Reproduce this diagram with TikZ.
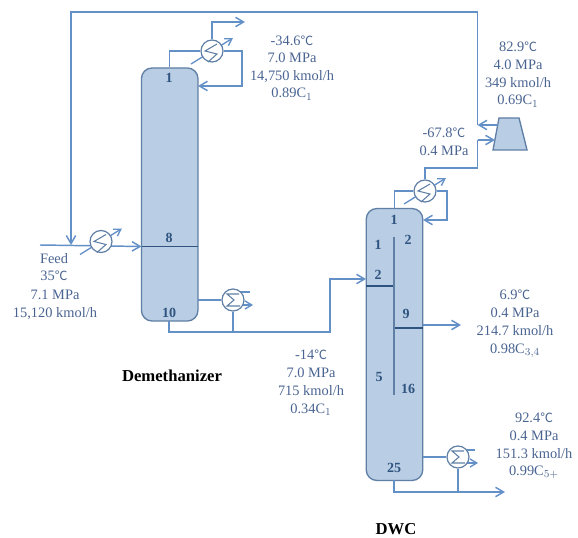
\documentclass[tikz,border=0pt]{standalone}
\usepackage{fontspec}
\setmainfont{Liberation Serif}
\newfontfamily\cjkdeg{Noto Sans CJK SC}
\usetikzlibrary{arrows.meta,calc}
\newcommand{\degC}{{\cjkdeg\fontsize{9.5pt}{10pt}\selectfont ℃}}
\definecolor{pipe}{HTML}{6490C8}
\definecolor{colfill}{HTML}{B9CDE5}
\definecolor{coledge}{HTML}{5F7FA5}
\definecolor{txt}{HTML}{4A6491}
\definecolor{tray}{HTML}{2F5480}
\definecolor{hxc}{HTML}{5F7FA5}
\newcommand{\hxarrow}[1]{%
  \draw[zigarrow] ([shift={(-21,-13)}]#1.center) -- ([shift={(21,13)}]#1.center);}
\newcommand{\hxzig}[1]{%
  \draw[zig] ([shift={(5,7)}]#1.center) -- ([shift={(-7,0)}]#1.center) -- ([shift={(5,-3)}]#1.center) -- ([shift={(-4,-11)}]#1.center);}
\newcommand{\rbsigma}[1]{%
  \draw[zig] ([shift={(6,6)}]#1.center) -- ([shift={(-6,6)}]#1.center) -- ([shift={(1,0)}]#1.center) -- ([shift={(-6,-6)}]#1.center) -- ([shift={(7,-6)}]#1.center);}
\tikzset{
  x=0.75pt,y=0.75pt,
  pipeline/.style={draw=pipe,line width=1.1pt,line join=miter},
  flow/.style={pipeline,-{Straight Barb[length=6pt,width=7pt]}},
  zig/.style={draw=hxc,line width=0.8pt},
  zigarrow/.style={draw=pipe,line width=1pt,-{Straight Barb[length=5pt,width=6pt]}},
  hxnode/.style={circle,draw=hxc,fill=white,line width=0.9pt,inner sep=0pt,minimum size=16.5pt},
  column/.style={draw=coledge,fill=colfill,line width=1pt,rounded corners=8pt,inner sep=0pt},
  trayline/.style={draw=tray,line width=1.1pt},
  stage/.style={font=\fontsize{10.5pt}{12pt}\selectfont\bfseries,text=tray,inner sep=0pt},
  info/.style={font=\fontsize{10.8pt}{13pt}\selectfont,text=txt,align=center,inner sep=0pt,anchor=base,yshift=-0.75pt},
  title/.style={font=\fontsize{12.5pt}{14pt}\selectfont\bfseries,text=black,inner sep=0pt},
}
\begin{document}
\begin{tikzpicture}
\useasboundingbox (0,0) rectangle (578,-538);
% columns
\node[column,minimum width=42.4pt,minimum height=189.8pt] (dem) at (169.7,-194.5) {};
\node[column,minimum width=42.4pt,minimum height=204pt] (dwc) at (394.5,-344.5) {};
% internals
\coordinate (t8L) at (141.5,-246.5);
\coordinate (t8R) at (198,-246.5);
\coordinate (wallT) at (394,-237);
\coordinate (wallB) at (394,-395);
\coordinate (t2L) at (366,-286);
\coordinate (t2R) at (394,-286);
\coordinate (t9L) at (394,-328);
\coordinate (t9R) at (423,-328);
\draw[trayline] (t8L) -- (t8R);
\draw[trayline] (t2L) -- (t2R);
\draw[trayline] (t9L) -- (t9R);
\draw[draw=coledge,line width=0.9pt] (wallT) -- (wallB);
% exchanger positions
\coordinate (c1p) at (212,-51);
\coordinate (feedp) at (101,-241.5);
\coordinate (r1p) at (233,-300);
\coordinate (c2p) at (425,-191);
\coordinate (r2p) at (458,-457);
\node[hxnode,draw=none,fill=none] (c1) at (c1p) {};
\node[hxnode,draw=none,fill=none] (feedhx) at (feedp) {};
\node[hxnode,draw=none,fill=none] (r1) at (r1p) {};
\node[hxnode,draw=none,fill=none] (c2) at (c2p) {};
\node[hxnode,draw=none,fill=none] (r2) at (r2p) {};
% compressor
\path[draw=coledge,fill=colfill,line width=1pt] (499,-118) -- (519,-118) -- (527,-150) -- (493,-150) -- cycle;
\coordinate (compOut) at (497.5,-125);
\coordinate (compIn) at (495,-140);
% demethanizer top
\coordinate (c1a) at (242,-51);
\coordinate (c1b) at (242,-86);
\coordinate (c1ret) at (198,-86);
\coordinate (c1up) at (212,-22);
\coordinate (c1out) at (245,-22);
\draw[pipeline] (dem.north) |- (c1.west);
\draw[flow] (c1.east) -- (c1a) -- (c1b) -- (c1ret);
\draw[flow] (c1.north) -- (c1up) -- (c1out);
% recycle
\coordinate (rTee) at (477.5,-125);
\coordinate (rTopR) at (477.5,-12);
\coordinate (rTopL) at (71,-12);
\coordinate (rMix) at (71,-245);
\draw[flow] (compOut) -- (rTee);
\draw[flow] (rTee) -- (rTopR) -- (rTopL) -- (rMix);
% feed
\coordinate (feedIn) at (40,-245);
\draw[flow] (feedIn) -- (t8L);
% demethanizer bottom
\coordinate (demB) at (169,-321);
\coordinate (botDem) at (169,-332);
\coordinate (botMerge) at (234,-332);
\coordinate (toDwc1) at (330,-332);
\coordinate (toDwc2) at (330,-279);
\coordinate (dwcFeed) at (366,-279);
\draw[flow] (demB) -- (botDem) -- (toDwc1) -- (toDwc2) -- (dwcFeed);
\draw[pipeline] (r1.south) -- (r1.south |- botMerge);
\coordinate (demS) at (198,-300);
\draw[pipeline] (demS) -- (r1.west);
\coordinate (r1s) at (250,-292);
\coordinate (r1o) at (253,-305);
\draw[pipeline] ([shift={(7,8)}]r1.center) -- (r1s);
\draw[zigarrow] ([shift={(9,-5)}]r1.center) -- (r1o);
% DWC top
\coordinate (dwcT) at (394.5,-208);
\coordinate (c2l) at (394.5,-191);
\coordinate (c2a) at (447,-191);
\coordinate (c2b) at (447,-220);
\coordinate (c2ret) at (423,-220);
\coordinate (c2up) at (425,-168);
\coordinate (c2m) at (477.5,-168);
\coordinate (c2n) at (477.5,-140);
\draw[pipeline] (dwcT) -- (c2l) -- (c2.west);
\draw[flow] (c2.east) -- (c2a) -- (c2b) -- (c2ret);
\draw[pipeline] (c2.north) -- (c2up) -- (c2m) -- (c2n);
\draw[flow] (c2n) -- (compIn);
% DWC side and bottom
\coordinate (sideS) at (423,-325);
\coordinate (sideOut) at (461,-325);
\draw[flow] (sideS) -- (sideOut);
\coordinate (r2in) at (423,-457);
\draw[pipeline] (r2in) -- (r2.west);
\coordinate (dwcB) at (394,-480);
\coordinate (botDwc) at (394,-492);
\coordinate (botOut) at (505,-492);
\draw[flow] (dwcB) -- (botDwc) -- (botOut);
\draw[pipeline] (r2.south) -- (r2.south |- botOut);
\coordinate (r2s) at (475,-450);
\coordinate (r2o) at (478,-463);
\draw[pipeline] ([shift={(7,7)}]r2.center) -- (r2s);
\draw[zigarrow] ([shift={(9,-6)}]r2.center) -- (r2o);
% exchanger arrows, then faces over them
\hxarrow{c1}\hxarrow{c2}\hxarrow{feedhx}
\foreach \n in {c1p,c2p,feedp,r1p,r2p}{\node[hxnode] at (\n) {};}
\hxzig{c1}\hxzig{c2}\hxzig{feedhx}
\rbsigma{r1}\rbsigma{r2}
% stage numbers
\node[stage] (s1) at (169,-78) {1};
\node[stage] (s8) at (169,-238) {8};
\node[stage] (s10) at (169,-313) {10};
\node[stage] (d1) at (394,-220) {1};
\node[stage] (d1b) at (378,-245) {1};
\node[stage] (d2b) at (408,-240) {2};
\node[stage] (d2) at (378,-275) {2};
\node[stage] (d9) at (406,-314) {9};
\node[stage] (d5) at (379,-377) {5};
\node[stage] (d16) at (408,-389) {16};
\node[stage] (d25) at (394,-468) {25};
% info
\node[info] (i1a) at (292,-45) {-34.6\degC};
\node[info] (i1b) at (292,-62) {7.0 MPa};
\node[info] (i1c) at (292,-80) {14,750 kmol/h};
\node[info] (i1d) at (292,-97) {0.89C$_{1}$};
\node[info] (i2a) at (518,-51) {82.9\degC};
\node[info] (i2b) at (518,-69) {4.0 MPa};
\node[info] (i2c) at (518,-87) {349 kmol/h};
\node[info] (i2d) at (518,-104) {0.69C$_{1}$};
\node[info] (i3a) at (444,-137) {-67.8\degC};
\node[info] (i3b) at (444,-155) {0.4 MPa};
\node[info] (f1) at (54,-262) {Feed};
\node[info] (f2) at (54,-280) {35\degC};
\node[info] (f3) at (55,-298) {7.1 MPa};
\node[info] (f4) at (55,-316) {15,120 kmol/h};
\node[info] (b1) at (311,-358) {-14\degC};
\node[info] (b2) at (311,-376) {7.0 MPa};
\node[info] (b3) at (311,-394) {715 kmol/h};
\node[info] (b4) at (311,-412) {0.34C$_{1}$};
\node[info] (m1) at (515,-298) {6.9\degC};
\node[info] (m2) at (515,-316) {0.4 MPa};
\node[info] (m3) at (515,-334) {214.7 kmol/h};
\node[info] (m4) at (515,-352) {0.98C$_{3,4}$};
\node[info] (n1) at (534,-421) {92.4\degC};
\node[info] (n2) at (534,-439) {0.4 MPa};
\node[info] (n3) at (534,-457) {151.3 kmol/h};
\node[info] (n4) at (534,-474) {0.99C$_{5+}$};
\node[title] (tdem) at (172,-376) {Demethanizer};
\node[title] (tdwc) at (396,-529) {DWC};
\end{tikzpicture}
\end{document}
